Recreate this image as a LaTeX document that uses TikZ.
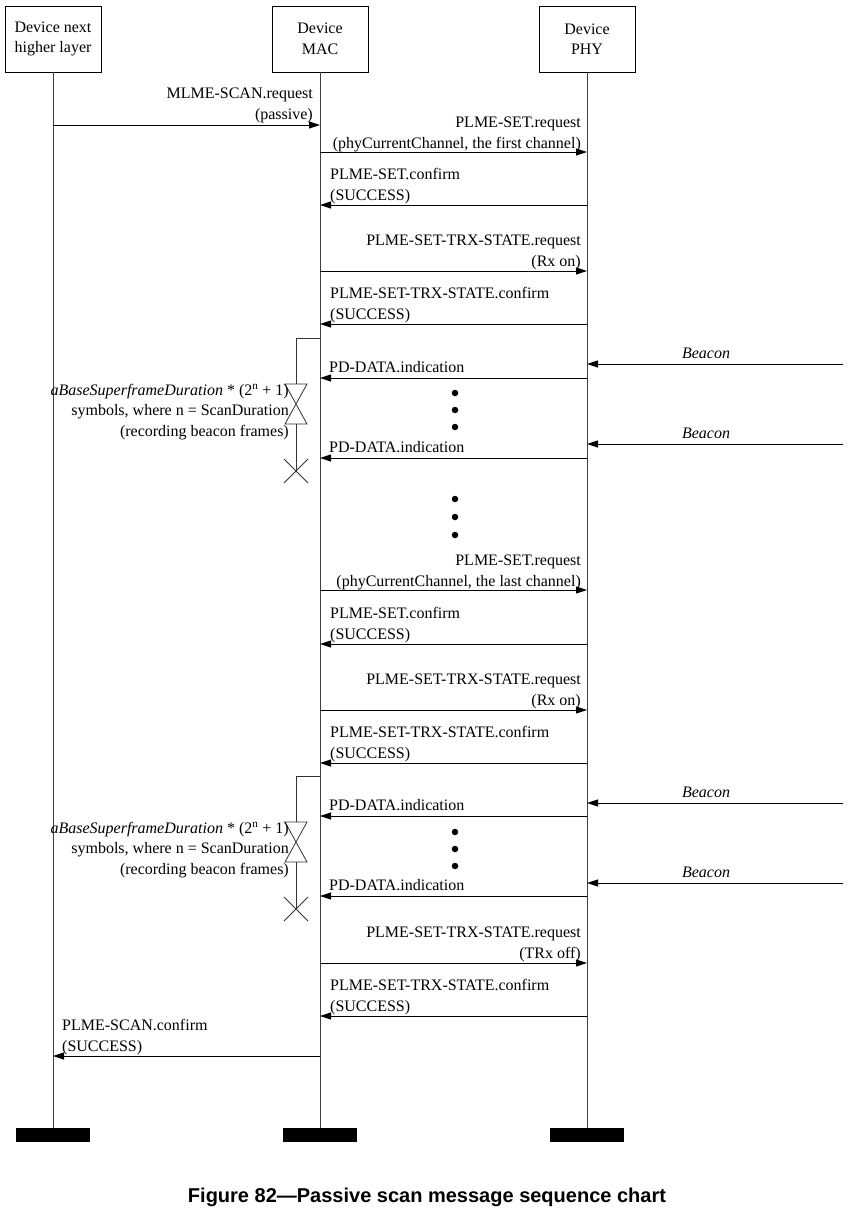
\documentclass[tikz,border=0pt]{standalone}
\usepackage{fontspec}
\setmainfont{Liberation Serif}
\setsansfont{Liberation Sans}
\usetikzlibrary{arrows.meta,positioning}

\tikzset{
  txt/.style={font=\fontsize{16}{20.5}\selectfont, inner sep=0pt},
  head/.style={draw, line width=0.8pt, txt, align=center, minimum width=96pt, minimum height=66pt},
  endbar/.style={fill=black, draw=none, minimum width=74pt, minimum height=14pt, inner sep=0pt},
  life/.style={line width=0.8pt, black!75},
  msg/.style={line width=0.9pt, -{Triangle[length=11pt,width=7pt]}},
  rlbl/.style={txt, align=right, anchor=south east},
  llbl/.style={txt, align=left, anchor=south west},
  ind/.style={txt, anchor=base west},
  bcn/.style={txt, font=\fontsize{16}{20.5}\selectfont\itshape, anchor=base},
  timer/.style={line width=0.8pt, black!80},
  dot/.style={circle, fill=black, inner sep=0pt, minimum size=6.5pt}
}

\begin{document}
\begin{tikzpicture}[x=1pt,y=-1pt]
  \useasboundingbox (0,0) rectangle (854,1217);

  % lifeline heads and ends
  \node[head] (nhl) at (53,39) {Device next\\higher layer};
  \node[head] (mac) at (320,39) {Device\\MAC};
  \node[head] (phy) at (587,39) {Device\\PHY};
  \node[endbar] (nhlend) at (53,1135) {};
  \node[endbar] (macend) at (320,1135) {};
  \node[endbar] (phyend) at (587,1135) {};
  \draw[life] (nhl.south) -- (nhlend.north);
  \draw[life] (mac.south) -- (macend.north);
  \draw[life] (phy.south) -- (phyend.north);
  \coordinate (air) at (843,0);

  % first channel
  \draw[msg] (nhl |- 0,125) -- (mac |- 0,125);
  \node[rlbl] (scanreq) at ([xshift=-7pt]mac |- 0,123) {MLME-SCAN.request\\(passive)};
  \draw[msg] (mac |- 0,152) -- (phy |- 0,152);
  \node[rlbl] (setreq1) at ([xshift=-6pt]phy |- 0,152) {PLME-SET.request\\(phyCurrentChannel, the first channel)};
  \draw[msg] (phy |- 0,205) -- (mac |- 0,205);
  \node[llbl] (setcnf1) at ([xshift=10pt]mac |- 0,204) {PLME-SET.confirm\\(SUCCESS)};
  \draw[msg] (mac |- 0,271) -- (phy |- 0,271);
  \node[rlbl] (trxreq1) at ([xshift=-6pt]phy |- 0,270) {PLME-SET-TRX-STATE.request\\(Rx on)};
  \draw[msg] (phy |- 0,324) -- (mac |- 0,324);
  \node[llbl] (trxcnf1) at ([xshift=10pt]mac |- 0,323) {PLME-SET-TRX-STATE.confirm\\(SUCCESS)};

  % scan timer, first channel
  \draw[timer] (mac |- 0,338) -- (296,338) -- (296,384);
  \draw[timer] (285,384) -- (307,384) -- (285,424) -- (307,424) -- cycle;
  \draw[timer] (296,424) -- (296,471);
  \draw[timer] (284,459) -- (308,483) (284,483) -- (308,459);
  \node[rlbl] (dur1) at (289,440) {\textit{aBaseSuperframeDuration} * (2\textsuperscript{n} + 1)\\symbols, where n = ScanDuration\\(recording beacon frames)};

  \draw[msg] (air |- 0,364) -- (phy |- 0,364);
  \node[bcn] (bcn1) at (706,358) {Beacon};
  \draw[msg] (phy |- 0,378) -- (mac |- 0,378);
  \node[ind] (ind1) at ([xshift=9pt]mac |- 0,372) {PD-DATA.indication};
  \foreach \y in {393,410,427} \node[dot] at (455,\y) {};
  \draw[msg] (air |- 0,444) -- (phy |- 0,444);
  \node[bcn] (bcn2) at (706,438) {Beacon};
  \draw[msg] (phy |- 0,458) -- (mac |- 0,458);
  \node[ind] (ind2) at ([xshift=9pt]mac |- 0,452) {PD-DATA.indication};

  \foreach \y in {499,517,535} \node[dot] at (455,\y) {};

  % last channel
  \draw[msg] (mac |- 0,590) -- (phy |- 0,590);
  \node[rlbl] (setreq2) at ([xshift=-6pt]phy |- 0,590) {PLME-SET.request\\(phyCurrentChannel, the last channel)};
  \draw[msg] (phy |- 0,644) -- (mac |- 0,644);
  \node[llbl] (setcnf2) at ([xshift=10pt]mac |- 0,643) {PLME-SET.confirm\\(SUCCESS)};
  \draw[msg] (mac |- 0,710) -- (phy |- 0,710);
  \node[rlbl] (trxreq2) at ([xshift=-6pt]phy |- 0,709) {PLME-SET-TRX-STATE.request\\(Rx on)};
  \draw[msg] (phy |- 0,763) -- (mac |- 0,763);
  \node[llbl] (trxcnf2) at ([xshift=10pt]mac |- 0,762) {PLME-SET-TRX-STATE.confirm\\(SUCCESS)};

  % scan timer, last channel
  \draw[timer] (mac |- 0,776) -- (296,776) -- (296,822);
  \draw[timer] (285,822) -- (307,822) -- (285,862) -- (307,862) -- cycle;
  \draw[timer] (296,862) -- (296,909);
  \draw[timer] (284,897) -- (308,921) (284,921) -- (308,897);
  \node[rlbl] (dur2) at (289,878) {\textit{aBaseSuperframeDuration} * (2\textsuperscript{n} + 1)\\symbols, where n = ScanDuration\\(recording beacon frames)};

  \draw[msg] (air |- 0,803) -- (phy |- 0,803);
  \node[bcn] (bcn3) at (706,797) {Beacon};
  \draw[msg] (phy |- 0,816) -- (mac |- 0,816);
  \node[ind] (ind3) at ([xshift=9pt]mac |- 0,810) {PD-DATA.indication};
  \foreach \y in {832,849,866} \node[dot] at (455,\y) {};
  \draw[msg] (air |- 0,883) -- (phy |- 0,883);
  \node[bcn] (bcn4) at (706,877) {Beacon};
  \draw[msg] (phy |- 0,896) -- (mac |- 0,896);
  \node[ind] (ind4) at ([xshift=9pt]mac |- 0,890) {PD-DATA.indication};

  % end of scan
  \draw[msg] (mac |- 0,963) -- (phy |- 0,963);
  \node[rlbl] (trxreq3) at ([xshift=-6pt]phy |- 0,962) {PLME-SET-TRX-STATE.request\\(TRx off)};
  \draw[msg] (phy |- 0,1016) -- (mac |- 0,1016);
  \node[llbl] (trxcnf3) at ([xshift=10pt]mac |- 0,1015) {PLME-SET-TRX-STATE.confirm\\(SUCCESS)};
  \draw[msg] (mac |- 0,1056) -- (nhl |- 0,1056);
  \node[llbl] (scancnf) at ([xshift=9pt]nhl |- 0,1055) {PLME-SCAN.confirm\\(SUCCESS)};

  \node[font=\sffamily\bfseries\fontsize{20}{24}\selectfont] (caption) at (427,1197) {Figure 82---Passive scan message sequence chart};
\end{tikzpicture}
\end{document}
